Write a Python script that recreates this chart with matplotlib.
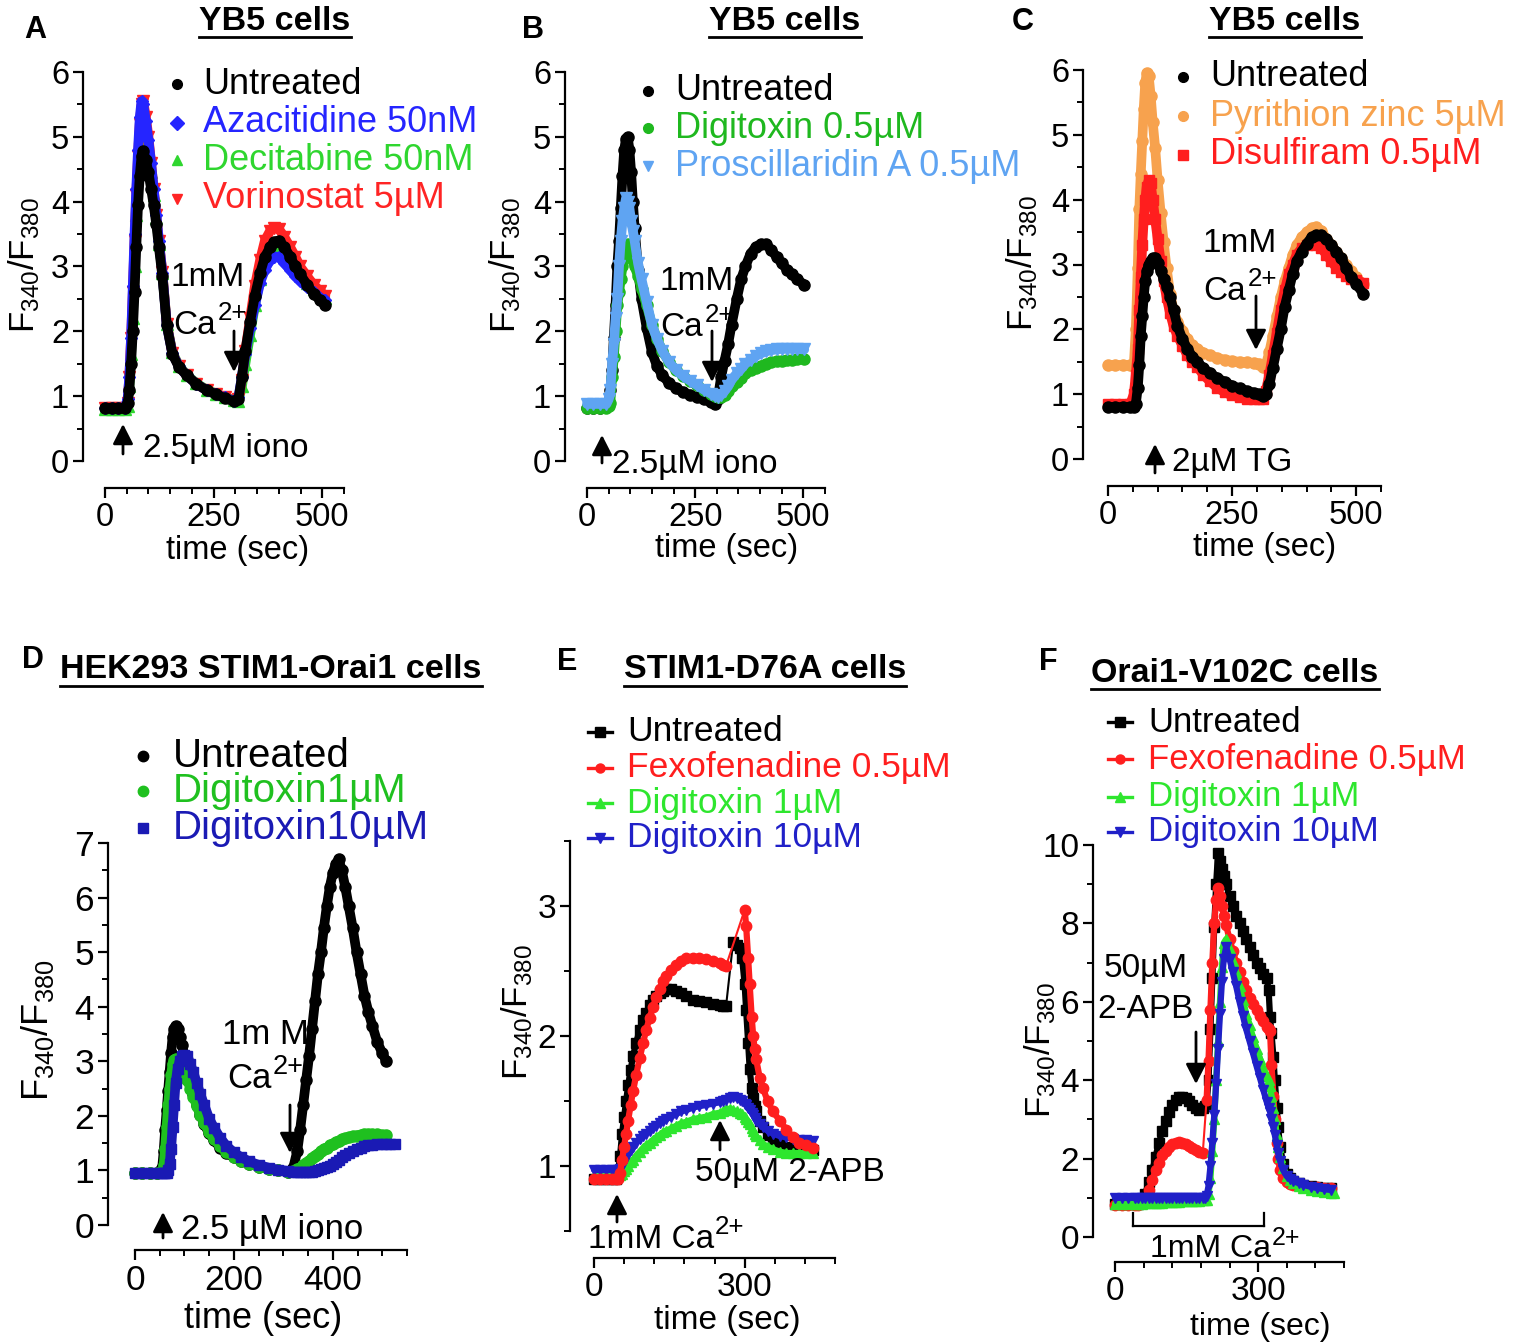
import numpy as np
import matplotlib
matplotlib.use('Agg')
import matplotlib.pyplot as plt
from matplotlib.lines import Line2D
from matplotlib.patches import FancyArrowPatch
from matplotlib.ticker import MultipleLocator, FixedLocator

plt.rcParams['font.family'] = ['Liberation Sans', 'DejaVu Sans']
plt.rcParams['mathtext.fontset'] = 'custom'
plt.rcParams['mathtext.rm'] = 'Liberation Sans'
plt.rcParams['mathtext.it'] = 'Liberation Sans:italic'
plt.rcParams['mathtext.bf'] = 'Liberation Sans:bold'

# ------------------------------------------------------------------ data
# Panel A (YB5, iono then Ca2+)
TA = [0, 15, 30, 45, 52, 56, 60, 64, 68, 72, 76, 80, 84, 88, 94, 100, 106, 112, 118, 124,
      132, 142, 155, 170, 188, 210, 234, 255, 275, 296, 307, 315, 323, 334, 345, 357, 368, 380, 390, 400,
      413, 426, 438, 449, 465, 480, 495, 507]
A_untreated = [0.82, 0.82, 0.82, 0.82, 0.9, 1.1, 1.5, 2.0, 2.6, 3.3, 3.95, 4.4, 4.7, 4.78,
               4.65, 4.45, 4.2, 3.95, 3.65, 3.3,
               2.85, 2.1, 1.65, 1.45, 1.32, 1.19, 1.09, 1.03, 0.97, 0.92,
               0.95, 1.3, 1.7, 2.15, 2.55, 2.9, 3.15, 3.3, 3.38, 3.4,
               3.3, 3.15, 3.0, 2.88, 2.72, 2.58, 2.48, 2.4]
A_azacitidine = [0.82, 0.82, 0.82, 0.82, 0.95, 1.3, 1.9, 2.7, 3.5, 4.2, 4.8, 5.3, 5.55, 5.5,
                 5.25, 4.95, 4.6, 4.2, 3.8, 3.4,
                 2.9, 2.1, 1.66, 1.46, 1.32, 1.19, 1.09, 1.03, 0.98, 0.93,
                 0.98, 1.3, 1.65, 2.05, 2.4, 2.75, 2.95, 3.1, 3.15, 3.15,
                 3.05, 2.95, 2.85, 2.78, 2.68, 2.6, 2.52, 2.48]
A_decitabine = [0.8, 0.8, 0.8, 0.8, 0.85, 1.15, 1.65, 2.2, 3.0, 3.8, 4.5, 5.0, 5.25, 5.3,
                5.1, 4.8, 4.45, 4.1, 3.75, 3.35,
                2.9, 2.12, 1.68, 1.47, 1.33, 1.2, 1.1, 1.04, 0.99, 0.94,
                0.92, 1.15, 1.5, 1.95, 2.4, 2.8, 3.1, 3.25, 3.32, 3.35,
                3.25, 3.1, 2.98, 2.88, 2.75, 2.65, 2.58, 2.52]
A_vorinostat = [0.82, 0.82, 0.82, 0.82, 0.9, 1.3, 1.9, 2.6, 3.4, 4.1, 4.7, 5.2, 5.5, 5.55,
                5.3, 5.0, 4.6, 4.2, 3.8, 3.4,
                2.92, 2.12, 1.67, 1.46, 1.32, 1.19, 1.09, 1.03, 0.98, 0.93,
                0.95, 1.25, 1.7, 2.2, 2.7, 3.1, 3.4, 3.55, 3.6, 3.58,
                3.45, 3.3, 3.15, 3.0, 2.85, 2.72, 2.62, 2.55]

# Panel B
TB = [0, 15, 30, 45, 50, 54, 58, 62, 66, 70, 74, 78, 82, 86, 90, 94, 98, 102, 106, 110,
      118, 126, 138, 150, 162, 174, 190, 206, 222, 238, 254, 270, 286, 296, 302, 310, 318, 326, 334, 346,
      356, 366, 378, 390, 402, 414, 426, 438, 450, 462, 474, 486, 502]
B_untreated = [0.82, 0.82, 0.82, 0.83, 0.9, 1.1, 1.4, 1.9, 2.4, 3.0, 3.4, 3.9, 4.4, 4.8, 4.97, 5.0, 4.8, 4.45, 4.0, 3.6,
               2.95, 2.5, 2.05, 1.68, 1.46, 1.32, 1.2, 1.12, 1.06, 1.02,
               0.98, 0.95, 0.91, 0.88, 0.95, 1.3, 1.55, 1.8, 2.1, 2.5,
               2.8, 3.0, 3.2, 3.3, 3.35, 3.35, 3.25, 3.15, 3.05, 2.95, 2.88, 2.8, 2.72]
B_digitoxin = [0.82, 0.82, 0.82, 0.82, 0.85, 0.9, 1.3, 1.6, 2.0, 2.4, 2.6, 2.8, 3.0, 3.2, 3.3, 3.35, 3.3, 3.2, 3.1, 3.0,
               2.85, 2.65, 2.4, 2.1, 1.88, 1.7, 1.52, 1.4, 1.31, 1.24,
               1.17, 1.1, 1.04, 1.0, 0.98, 0.98, 1.02, 1.08, 1.15, 1.22,
               1.28, 1.35, 1.4, 1.44, 1.47, 1.5, 1.52, 1.54, 1.55, 1.56, 1.56, 1.57, 1.57]
B_proscillaridin = [0.88, 0.88, 0.88, 0.88, 0.95, 1.1, 1.5, 1.8, 2.2, 2.5, 3.0, 3.4, 3.7, 3.9, 4.05, 4.0, 3.9, 3.7, 3.55, 3.4,
                    3.05, 2.8, 2.45, 2.1, 1.88, 1.7, 1.52, 1.4, 1.31, 1.24,
                    1.17, 1.1, 1.04, 1.0, 0.99, 1.02, 1.08, 1.15, 1.25, 1.35,
                    1.42, 1.5, 1.56, 1.62, 1.66, 1.69, 1.71, 1.72, 1.73, 1.73, 1.73, 1.73, 1.72]

# Panel C (TG then Ca2+)
TC = [0, 15, 30, 45, 52, 56, 60, 63, 66, 69, 72, 75, 78, 82, 86, 90,
      95, 100, 106, 112, 118, 125, 132, 140,
      150, 160, 170, 180, 192, 205, 220, 235, 250, 265,
      280, 295, 305, 312, 318, 325, 332, 340, 348, 356,
      364, 372, 380, 390, 400, 410, 420, 430, 440, 450,
      460, 470, 480, 490, 500, 514]
C_untreated = [0.8, 0.8, 0.8, 0.8, 0.8, 0.85, 1.1, 1.45, 1.9, 2.2, 2.5, 2.75, 2.9, 3.0, 3.05, 3.1,
               3.1, 3.02, 2.9, 2.78, 2.66, 2.5, 2.3, 2.05,
               1.85, 1.7, 1.58, 1.5, 1.4, 1.33, 1.25, 1.19, 1.13, 1.09,
               1.05, 1.02, 1.0, 0.97, 1.0, 1.15, 1.4, 1.7, 2.0, 2.35,
               2.6, 2.85, 3.05, 3.2, 3.32, 3.42, 3.45, 3.45, 3.4, 3.3,
               3.2, 3.1, 2.95, 2.8, 2.7, 2.55]
C_pyrithione = [1.45, 1.45, 1.45, 1.45, 1.45, 2.0, 2.95, 3.85, 4.4, 4.9, 5.4, 5.8, 5.95, 5.9, 5.6, 5.2,
                4.8, 4.3, 3.8, 3.35, 2.95, 2.55, 2.3, 2.12,
                1.98, 1.85, 1.76, 1.7, 1.64, 1.6, 1.56, 1.53, 1.51, 1.5,
                1.49, 1.48, 1.47, 1.42, 1.45, 1.65, 1.9, 2.2, 2.5, 2.75,
                2.95, 3.15, 3.3, 3.42, 3.5, 3.56, 3.58, 3.52, 3.4, 3.3,
                3.2, 3.1, 3.0, 2.9, 2.8, 2.7]
C_disulfiram = [0.85, 0.85, 0.85, 0.85, 1.0, 1.3, 1.7, 2.3, 2.8, 3.3, 3.7, 4.0, 4.2, 4.3, 4.25, 4.0,
                3.7, 3.4, 3.05, 2.75, 2.5, 2.25, 2.05, 1.9,
                1.75, 1.6, 1.5, 1.42, 1.3, 1.2, 1.1, 1.03, 0.98, 0.95,
                0.93, 0.92, 0.92, 0.93, 1.05, 1.3, 1.6, 1.95, 2.3, 2.6,
                2.85, 3.0, 3.15, 3.25, 3.3, 3.32, 3.3, 3.25, 3.15, 3.05,
                2.95, 2.88, 2.82, 2.78, 2.76, 2.72]

# Panel D (HEK293 STIM1-Orai1)
TD = [0, 15, 30, 45, 55, 58, 61, 64, 67, 70, 73, 76, 79, 82, 86, 90,
      95, 100, 106, 112, 118, 125, 132, 140, 150, 160,
      172, 185, 200, 215, 230, 250, 270, 290, 310, 320,
      328, 334, 340, 346, 352, 358, 364, 370, 376, 382,
      388, 394, 400, 406, 412, 418, 425, 432, 440, 448,
      456, 464, 472, 480, 490, 500, 508, 516, 525]
D_untreated = [0.95, 0.95, 0.95, 0.95, 1.05, 1.35, 1.75, 2.1, 2.45, 2.8, 3.15, 3.45, 3.6, 3.65, 3.6, 3.45,
               3.3, 3.1, 2.85, 2.6, 2.4, 2.2, 2.02, 1.85, 1.68, 1.55,
               1.42, 1.32, 1.24, 1.17, 1.12, 1.07, 1.03, 1.0, 0.97, 1.05,
               1.35, 1.75, 2.2, 2.65, 3.1, 3.6, 4.1, 4.6, 5.0, 5.45,
               5.85, 6.2, 6.45, 6.62, 6.7, 6.5, 6.2, 5.85, 5.45, 5.0,
               4.6, 4.2, 3.9, 3.65, 3.35, 3.15, 3.0, None, None]
D_digitoxin1 = [0.95, 0.95, 0.95, 0.95, 0.98, 1.1, 1.4, 1.8, 2.2, 2.5, 2.75, 2.95, 3.02, 3.05, 3.02, 2.95,
                2.88, 2.78, 2.65, 2.5, 2.35, 2.18, 2.02, 1.87, 1.7, 1.57,
                1.45, 1.34, 1.25, 1.18, 1.12, 1.07, 1.03, 1.0, 0.98, 0.99,
                1.02, 1.05, 1.1, 1.14, 1.18, 1.22, 1.27, 1.31, 1.35, 1.39,
                1.42, 1.46, 1.49, 1.52, 1.54, 1.57, 1.59, 1.61, 1.63, 1.64,
                1.65, 1.66, 1.67, 1.67, 1.66, 1.65, 1.65, None, None]
D_digitoxin10 = [0.95, 0.95, 0.95, 0.95, 0.95, 0.95, 0.95, 0.95, 1.0, 1.12, 1.4, 1.8, 2.2, 2.6, 2.85, 3.0,
                 3.1, 3.12, 3.1, 2.95, 2.8, 2.6, 2.4, 2.2, 1.95, 1.78,
                 1.6, 1.45, 1.33, 1.24, 1.17, 1.1, 1.05, 1.01, 0.99, 0.98,
                 0.97, 0.97, 0.97, 0.97, 0.97, 0.98, 0.99, 1.0, 1.02, 1.04,
                 1.06, 1.09, 1.12, 1.16, 1.2, 1.24, 1.28, 1.32, 1.36, 1.39,
                 1.42, 1.44, 1.46, 1.47, 1.48, 1.48, 1.48, 1.48, 1.48]

# Panel E (STIM1-D76A)
TE = [0, 12, 24, 36, 44, 48, 52, 56, 60, 64, 68, 73, 78, 84,
      91, 98, 104, 111, 117, 124, 131, 138, 144, 154,
      164, 174, 184, 197, 210, 224, 237, 250, 257, 263,
      270, 277, 284, 290, 295, 300, 303, 307, 310, 314,
      317, 320, 323, 330, 336, 346, 356, 370, 383, 396,
      409, 422, 436]
E_untreated = [0.9, 0.9, 0.9, 0.9, 0.9, 0.95, 1.08, 1.25, 1.38, 1.5, 1.62, 1.74, 1.85, 1.95,
               2.05, 2.12, 2.18, 2.24, 2.28, 2.31, 2.33, 2.35, 2.36, 2.36,
               2.35, 2.33, 2.31, 2.28, 2.27, 2.26, 2.25, 2.24, 2.23, 2.23,
               None, 2.72, 2.7, 2.68, 2.6, 2.4, 2.2, 1.95, 1.75, 1.6,
               1.52, 1.46, 1.42, 1.35, 1.3, 1.24, 1.2, 1.17, 1.15, 1.14,
               1.13, 1.12, 1.12]
E_fexofenadine = [0.9, 0.9, 0.9, 0.9, 0.9, 0.9, 0.95, 1.05, 1.15, 1.25, 1.35, 1.47, 1.58, 1.7,
                  1.83, 1.95, 2.05, 2.14, 2.22, 2.3, 2.36, 2.42, 2.46, 2.51,
                  2.55, 2.58, 2.6, 2.6, 2.6, 2.59, 2.58, 2.56, 2.55, 2.54,
                  None, None, None, None, None, 2.97, 2.85, 2.6, 2.4, 2.15,
                  2.0, 1.9, 1.82, 1.68, 1.6, 1.5, 1.42, 1.35, 1.28, 1.22,
                  1.18, 1.16, 1.14]
E_digitoxin1 = [0.92, 0.92, 0.92, 0.92, 0.92, 0.92, 0.93, 0.94, 0.96, 0.98, 1.0, 1.03, 1.05, 1.08,
                1.11, 1.14, 1.16, 1.18, 1.2, 1.22, 1.24, 1.26, 1.27, 1.29,
                1.31, 1.33, 1.34, 1.36, 1.37, 1.38, 1.4, 1.41, 1.42, 1.44,
                1.44, 1.43, 1.42, 1.41, 1.4, 1.38, 1.36, 1.34, 1.32, 1.29,
                1.27, 1.25, 1.23, 1.2, 1.17, 1.15, 1.13, 1.11, 1.1, 1.1,
                1.1, 1.1, 1.1]
E_digitoxin10 = [0.97, 0.97, 0.97, 0.97, 0.97, 0.97, 0.98, 1.0, 1.03, 1.06, 1.09, 1.12, 1.15, 1.18,
                 1.21, 1.23, 1.25, 1.27, 1.29, 1.31, 1.33, 1.35, 1.36, 1.38,
                 1.4, 1.42, 1.43, 1.45, 1.46, 1.47, 1.48, 1.49, 1.5, 1.51,
                 1.52, 1.53, 1.52, 1.51, 1.5, 1.48, 1.47, 1.45, 1.43, 1.41,
                 1.39, 1.37, 1.35, 1.32, 1.3, 1.27, 1.25, 1.23, 1.22, 1.21,
                 1.2, 1.2, 1.19]

# Panel F (Orai1-V102C)
TF = [0, 14, 28, 42, 49, 56, 63, 71, 78, 85, 92, 99, 106, 113,
      120, 127, 134, 141, 148, 155, 162, 169, 176, 184,
      188, 192, 196, 200, 204, 208, 212, 216, 220, 224,
      228, 233, 240, 247, 254, 261, 268, 275, 282, 289,
      297, 304, 311, 318, 322, 325, 328, 332, 335, 339,
      342, 346, 353, 360, 367, 374, 385, 395, 410, 424,
      438, 452, 459]
F_untreated = [0.85, 0.85, 0.85, 0.85, 0.85, 0.9, 1.1, 1.4, 1.7, 2.05, 2.4, 2.7, 2.95, 3.2,
               3.38, 3.5, 3.56, 3.57, 3.55, 3.48, 3.38, 3.3, 3.25, 3.3,
               3.35, 3.4, 4.0, 5.3, 6.6, 7.9, 9.0, 9.8, 9.6, 9.4,
               9.2, 9.0, 8.7, 8.45, 8.2, 8.0, 7.8, 7.6, 7.4, 7.2,
               7.0, 6.85, 6.72, 6.6, 6.3, 5.6, 5.2, 4.6, 4.0, 3.3,
               2.8, 2.3, 1.85, 1.6, 1.5, 1.43, 1.37, 1.33, 1.3, 1.28,
               1.26, 1.25, None]
F_fexofenadine = [0.82, 0.82, 0.82, 0.82, 0.82, 0.9, 1.0, 1.2, 1.45, 1.7, 1.9, 2.08, 2.2, 2.3,
                  2.37, 2.41, 2.42, 2.41, 2.38, 2.32, 2.26, 2.21, 2.18, 2.15,
                  None, 3.5, 4.5, 5.8, 7.0, 8.0, 8.6, 8.9, 8.7, 8.45,
                  8.2, 7.95, 7.6, 7.3, 7.0, 6.75, 6.5, 6.3, 6.1, 5.95,
                  5.8, 5.65, 5.5, 5.36, 5.3, 5.25, 4.4, 3.6, 3.0, 2.4,
                  2.0, 1.7, 1.5, 1.4, 1.35, 1.32, 1.3, 1.29, 1.28, 1.27,
                  1.26, 1.25, None]
F_digitoxin1 = [0.85, 0.85, 0.85, 0.85, 0.85, 0.85, 0.86, 0.86, 0.87, 0.87, 0.88, 0.88, 0.89, 0.89,
                0.9, 0.9, 0.9, 0.91, 0.91, 0.92, 0.92, 0.93, 0.93, 0.94,
                0.94, 0.95, 1.1, 1.5, 2.2, 3.0, 4.0, 5.0, 6.0, 6.9,
                7.5, 7.6, 7.35, 7.05, 6.75, 6.4, 6.05, 5.7, 5.4, 5.1,
                4.8, 4.55, 4.3, 4.1, 4.0, 3.85, 3.6, 3.3, 3.0, 2.6,
                2.3, 2.05, 1.75, 1.55, 1.45, 1.38, 1.3, 1.25, 1.2, 1.17,
                1.15, 1.13, 1.12]
F_digitoxin10 = [1.0, 1.0, 1.0, 1.0, 1.0, 1.0, 1.0, 1.0, 1.0, 1.0, 1.0, 1.0, 1.0, 1.0,
                 1.0, 1.0, 1.0, 1.0, 1.0, 1.0, 1.0, 1.0, 1.0, 1.0,
                 1.0, 1.05, 1.3, 1.8, 2.4, 3.1, 3.9, 4.8, 5.7, 6.5,
                 7.1, 7.4, 7.1, 6.75, 6.4, 6.0, 5.65, 5.3, 5.0, 4.7,
                 4.35, 4.05, 3.75, 3.45, 3.3, 3.2, 3.0, 2.8, 2.6, 2.35,
                 2.15, 1.95, 1.7, 1.55, 1.48, 1.43, 1.37, 1.33, 1.28, 1.25,
                 1.22, 1.2, None]

# ------------------------------------------------------------------ figure
W, H = 1535, 1344
fig = plt.figure(figsize=(W / 100, H / 100), dpi=100)
PX = 0.72  # points per pixel


def rect(x0, x1, yt, yb):
    return [x0 / W, 1 - yb / H, (x1 - x0) / W, (yb - yt) / H]


def fxy(x, y):
    return (x / W, 1 - y / H)


def style(ax, xlim, ylim, xmaj, xmin, ymaj, ymin, left_out, bot_out, fs):
    ax.set_xlim(*xlim)
    ax.set_ylim(*ylim)
    ax.patch.set_alpha(0)
    for s in ['top', 'right']:
        ax.spines[s].set_visible(False)
    ax.spines['left'].set_position(('outward', left_out * PX))
    ax.spines['bottom'].set_position(('outward', bot_out * PX))
    for s in ['left', 'bottom']:
        ax.spines[s].set_linewidth(1.6)
    ax.xaxis.set_major_locator(FixedLocator(xmaj))
    ax.xaxis.set_minor_locator(MultipleLocator(xmin))
    ax.yaxis.set_major_locator(FixedLocator(ymaj))
    ax.yaxis.set_minor_locator(MultipleLocator(ymin))
    ax.tick_params(which='major', direction='out', length=7, width=1.6, labelsize=fs, pad=3)
    ax.tick_params(which='minor', direction='out', length=4, width=1.4)


def band(ax, t, y, color, marker, ms=8, lw=7, z=2):
    y = np.array(y, dtype=float)
    ax.plot(t, y, '-', color=color, lw=lw, solid_capstyle='round', solid_joinstyle='round',
            zorder=z, clip_on=False)
    ax.plot(t, y, ls='none', marker=marker, ms=ms, color=color, mec=color, zorder=z, clip_on=False)


def linemark(ax, t, y, color, marker, ms=7.5, z=2):
    t = np.array(t, dtype=float)
    y = np.array(y, dtype=float)
    ok = ~np.isnan(y)
    ax.plot(t[ok], y[ok], '-', color=color, lw=1.5, zorder=z, clip_on=False)
    ax.plot(t, y, '-', color=color, lw=4.5, solid_capstyle='round', solid_joinstyle='round',
            zorder=z, clip_on=False)
    ax.plot(t, y, ls='none', marker=marker, ms=ms, color=color, mec=color, zorder=z, clip_on=False)


def ftext(x, y, s, size, ha='left', va='center', color='k', weight='normal'):
    return fig.text(x / W, 1 - y / H, s, fontsize=size, ha=ha, va=va, color=color, fontweight=weight)


def farrow(x, y_tail, y_head):
    fig.add_artist(FancyArrowPatch(fxy(x, y_tail), fxy(x, y_head), transform=fig.transFigure,
                                   arrowstyle='-|>,head_length=0.55,head_width=0.28',
                                   mutation_scale=22, lw=2.0, color='k', shrinkA=0, shrinkB=0))


def legend_manual(mx, tx, ys, entries, size, ms, with_line=False, half=12):
    for (label, color, marker), y in zip(entries, ys):
        X, Y = fxy(mx, y)
        if with_line:
            x0, _ = fxy(mx - half, y)
            x1, _ = fxy(mx + half, y)
            fig.add_artist(Line2D([x0, x1], [Y, Y], transform=fig.transFigure, color=color, lw=2.4))
        fig.add_artist(Line2D([X], [Y], transform=fig.transFigure, ls='none', marker=marker,
                              ms=ms, color=color, mec=color))
        ftext(tx, y, label, size, color=color)


titles = []
sups = []
SUP = 0.78


def title(xc, y, s, size, uy):
    t = ftext(xc, y, s, size, ha='center', weight='bold')
    titles.append((t, uy))


def ca_text(x, y, size, prefix='Ca', ha='center'):
    # base text; '2+' superscript is attached after layout
    shift = -0.5 * SUP * 1.15 * size / PX if ha == 'center' else 0
    t = ftext(x + shift, y, prefix, size, ha=ha)
    sups.append((t, size))


YL = r'F$_{340}$/F$_{380}$'
BLACK = '#000000'
TS = 24.5   # title size
LS = 26     # legend size (top row)

# ---------------- Panel A
axA = fig.add_axes(rect(105, 344, 72, 461))
style(axA, (0, 550), (0, 6), [0, 250, 500], 50, range(0, 7), 0.5, 22, 27, 23.5)
band(axA, TA, A_decitabine, '#2fd62f', '^', z=2)
band(axA, TA, A_vorinostat, '#ff2424', 'v', z=3)
band(axA, TA, A_azacitidine, '#2525ff', 'D', ms=6.5, z=4)
band(axA, TA, A_untreated, BLACK, 'o', z=5)
ftext(35, 30, 'A', 22, ha='center', weight='bold')
title(275, 22, 'YB5 cells', TS, 37)
ftext(24, 265, YL, 25, ha='center').set_rotation(90)
ftext(238, 551, 'time (sec)', 23.5, ha='center')
legend_manual(177, 203, [84, 123, 160, 199],
              [('Untreated', BLACK, 'o'), ('Azacitidine 50nM', '#2525ff', 'D'),
               ('Decitabine 50nM', '#2fd62f', '^'), ('Vorinostat 5µM', '#ff2424', 'v')], LS, 7)
ftext(208, 277, '1mM', 24, ha='center')
ca_text(210, 325, 24)
farrow(234, 331, 372)
farrow(123, 454, 424)
ftext(143, 449, '2.5µM iono', 24)

# ---------------- Panel B
axB = fig.add_axes(rect(587, 825, 72, 461))
style(axB, (0, 550), (0, 6), [0, 250, 500], 50, range(0, 7), 0.5, 22, 27, 23.5)
band(axB, TB, B_untreated, BLACK, 'o', z=2)
band(axB, TB, B_digitoxin, '#1fb81f', 'o', z=3)
band(axB, TB, B_proscillaridin, '#5fa4f2', 'v', z=4)
ftext(533, 30, 'B', 22, ha='center', weight='bold')
title(785, 22, 'YB5 cells', TS, 37)
ftext(505, 265, YL, 25, ha='center').set_rotation(90)
ftext(727, 549, 'time (sec)', 23.5, ha='center')
legend_manual(648, 675, [91, 128, 166],
              [('Untreated', BLACK, 'o'), ('Digitoxin 0.5µM', '#1fb81f', 'o'),
               ('Proscillaridin A 0.5µM', '#5fa4f2', 'v')], LS, 7)
ftext(697, 281, '1mM', 24, ha='center')
ca_text(697, 327, 24)
farrow(712, 331, 382)
farrow(602, 463, 435)
ftext(612, 464, '2.5µM iono', 24)

# ---------------- Panel C
axC = fig.add_axes(rect(1108, 1381, 70, 459))
style(axC, (0, 550), (0, 6), [0, 250, 500], 50, range(0, 7), 0.5, 25, 27, 23.5)
band(axC, TC, C_pyrithione, '#f7a24e', 'o', z=2)
band(axC, TC, C_disulfiram, '#ff1e1e', 's', ms=7, z=3)
band(axC, TC, C_untreated, BLACK, 'o', z=4)
ftext(1023, 22, 'C', 22, ha='center', weight='bold')
title(1285, 22, 'YB5 cells', TS, 37)
ftext(1022, 263, YL, 25, ha='center').set_rotation(90)
ftext(1265, 547, 'time (sec)', 23.5, ha='center')
legend_manual(1183, 1210, [77, 116, 155],
              [('Untreated', BLACK, 'o'), ('Pyrithion zinc 5µM', '#f7a24e', 'o'),
               ('Disulfiram 0.5µM', '#ff1e1e', 's')], LS, 7)
ftext(1240, 243, '1mM', 24, ha='center')
ca_text(1240, 291, 24)
farrow(1256, 296, 350)
farrow(1155, 473, 444)
ftext(1172, 462, '2µM TG', 24)

# ---------------- Panel D
axD = fig.add_axes(rect(135, 407, 843, 1225))
style(axD, (0, 550), (0, 7), [0, 200, 400], 50, range(0, 8), 0.5, 27, 25, 25.5)
band(axD, TD, D_untreated, BLACK, 'o', z=2)
band(axD, TD, D_digitoxin1, '#1fc01f', 'o', z=3)
band(axD, TD, D_digitoxin10, '#1a1ab4', 's', ms=7.5, z=4)
ftext(33, 660, 'D', 22, ha='center', weight='bold')
title(271, 670, 'HEK293 STIM1-Orai1 cells', TS, 686)
ftext(38, 1030, YL, 26, ha='center').set_rotation(90)
ftext(263, 1318, 'time (sec)', 26, ha='center')
legend_manual(143, 173, [756, 791, 828],
              [('Untreated', BLACK, 'o'), ('Digitoxin1µM', '#1fc01f', 'o'),
               ('Digitoxin10µM', '#1a1ab4', 's')], 29, 7.5)
ftext(265, 1034, '1m M', 25, ha='center')
ca_text(265, 1079, 25)
farrow(290, 1105, 1153)
farrow(163, 1238, 1212)
ftext(181, 1229, '2.5 µM iono', 25)

# ---------------- Panel E
axE = fig.add_axes(rect(594, 835, 841, 1231))
style(axE, (0, 480), (0.5, 3.5), [0, 300], 60, [1, 2, 3], 0.5, 24, 27, 24)
linemark(axE, TE, E_untreated, BLACK, 's', z=2)
linemark(axE, TE, E_digitoxin1, '#2ee62e', '^', z=3)
linemark(axE, TE, E_digitoxin10, '#2020c8', 'v', z=4)
linemark(axE, TE, E_fexofenadine, '#ff1e1e', 'o', z=5)
ftext(567, 662, 'E', 22, ha='center', weight='bold')
title(765, 670, 'STIM1-D76A cells', TS, 686)
ftext(517, 1012, YL, 25, ha='center').set_rotation(90)
ftext(727, 1320, 'time (sec)', 24, ha='center')
legend_manual(600, 627, [732, 768, 803, 838],
              [('Untreated', BLACK, 's'), ('Fexofenadine 0.5µM', '#ff1e1e', 'o'),
               ('Digitoxin 1µM', '#2ee62e', '^'), ('Digitoxin 10µM', '#2020c8', 'v')],
              25.5, 6.5, with_line=True)
farrow(617, 1222, 1194)
ca_text(588, 1239, 24, prefix='1mM Ca', ha='left')
farrow(720, 1150, 1120)
ftext(695, 1173, '50µM 2-APB', 24)

# ---------------- Panel F
axF = fig.add_axes(rect(1115, 1344, 845, 1237))
style(axF, (0, 480), (0, 10), [0, 300], 60, range(0, 11, 2), 1, 22, 25, 24)
linemark(axF, TF, F_untreated, BLACK, 's', z=2)
linemark(axF, TF, F_fexofenadine, '#ff1e1e', 'o', z=3)
linemark(axF, TF, F_digitoxin1, '#2ee62e', '^', z=4)
linemark(axF, TF, F_digitoxin10, '#2020c8', 'v', z=5)
ftext(1048, 662, 'F', 22, ha='center', weight='bold')
title(1235, 673, 'Orai1-V102C cells', TS, 689)
ftext(1040, 1050, YL, 25, ha='center').set_rotation(90)
ftext(1260, 1327, 'time (sec)', 23, ha='center')
legend_manual(1120, 1148, [722, 759, 797, 832],
              [('Untreated', BLACK, 's'), ('Fexofenadine 0.5µM', '#ff1e1e', 'o'),
               ('Digitoxin 1µM', '#2ee62e', '^'), ('Digitoxin 10µM', '#2020c8', 'v')],
              25, 6.5, with_line=True)
ftext(1146, 969, '50µM', 24, ha='center')
ftext(1146, 1009, '2-APB', 24, ha='center')
farrow(1196, 1032, 1084)
# bracket for 1mM Ca2+
for xs, ys in [((1133, 1133), (1213, 1226)), ((1133, 1264), (1226, 1226)), ((1264, 1264), (1213, 1226))]:
    p0 = fxy(xs[0], ys[0]); p1 = fxy(xs[1], ys[1])
    fig.add_artist(Line2D([p0[0], p1[0]], [p0[1], p1[1]], transform=fig.transFigure, color='k', lw=1.6))
ca_text(1225, 1249, 23, prefix='1mM Ca')

# underline titles and attach superscripts
fig.canvas.draw()
r = fig.canvas.get_renderer()
for t, uy in titles:
    bb = t.get_window_extent(renderer=r)
    y = 1 - uy / H
    fig.add_artist(Line2D([bb.x0 / W, bb.x1 / W], [y, y], transform=fig.transFigure, color='k', lw=2.0))
for t, size in sups:
    bb = t.get_window_extent(renderer=r)
    em = size / PX
    fig.text((bb.x1 + 1) / W, (bb.y1 - 0.12 * em) / H, '2+', fontsize=size * SUP,
             ha='left', va='center', color='k')

fig.savefig('out.png', dpi=100)
